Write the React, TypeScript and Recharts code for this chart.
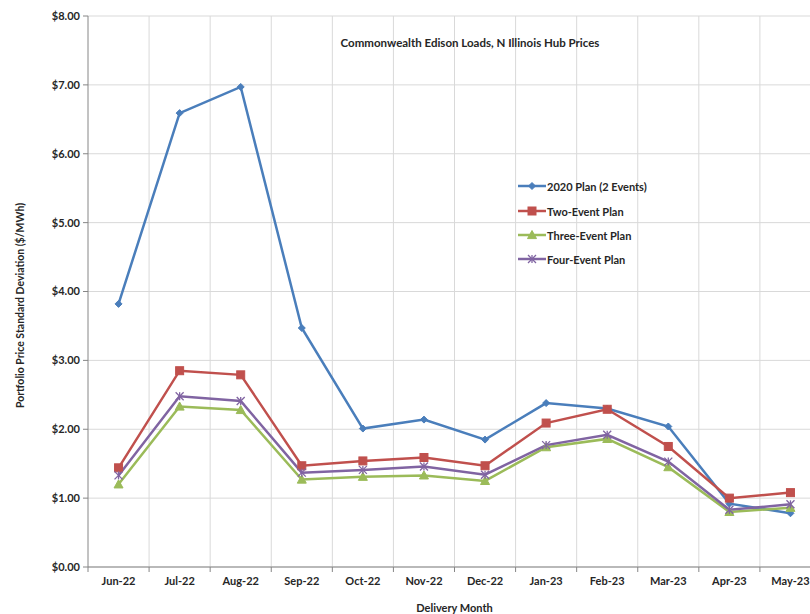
import React from "react";
import { LineChart, Line, XAxis, YAxis, CartesianGrid } from "recharts";

const months = ["Jun-22", "Jul-22", "Aug-22", "Sep-22", "Oct-22", "Nov-22", "Dec-22", "Jan-23", "Feb-23", "Mar-23", "Apr-23", "May-23"];
const plan2020 = [3.82, 6.59, 6.97, 3.47, 2.01, 2.14, 1.85, 2.38, 2.3, 2.04, 0.92, 0.78];
const twoEvent = [1.44, 2.85, 2.79, 1.47, 1.54, 1.59, 1.47, 2.09, 2.29, 1.75, 1.0, 1.08];
const threeEvent = [1.2, 2.33, 2.28, 1.27, 1.31, 1.33, 1.25, 1.74, 1.86, 1.45, 0.8, 0.86];
const fourEvent = [1.33, 2.48, 2.41, 1.37, 1.41, 1.46, 1.34, 1.77, 1.92, 1.53, 0.83, 0.91];
const yTicks = [0, 1, 2, 3, 4, 5, 6, 7, 8];

const seriesNames = ["2020 Plan (2 Events)", "Two-Event Plan", "Three-Event Plan", "Four-Event Plan"];
const colors = ["#4a7ebb", "#c0504d", "#9bbb59", "#8064a2"];
const shapes = ["diamond", "square", "triangle", "star"];

const data = months.map((m, i) => ({
  month: m,
  s0: plan2020[i],
  s1: twoEvent[i],
  s2: threeEvent[i],
  s3: fourEvent[i],
}));

const FONT = "Lato, 'Open Sans', sans-serif";
const TEXT = "#262626";

function Marker({ shape, cx, cy, color }: { shape: string; cx: number; cy: number; color: string }) {
  if (shape === "diamond") {
    const r = 3.5;
    return <path d={`M${cx},${cy - r} L${cx + r},${cy} L${cx},${cy + r} L${cx - r},${cy} Z`} fill={color} stroke={color} />;
  }
  if (shape === "square") {
    const r = 4;
    return <rect x={cx - r} y={cy - r} width={2 * r} height={2 * r} fill={color} stroke={color} />;
  }
  if (shape === "triangle") {
    const r = 4.5;
    return <path d={`M${cx},${cy - r} L${cx + r},${cy + r * 0.8} L${cx - r},${cy + r * 0.8} Z`} fill={color} stroke={color} />;
  }
  const r = 4;
  return (
    <g stroke={color} strokeWidth={1.3}>
      <line x1={cx - r} y1={cy - r} x2={cx + r} y2={cy + r} />
      <line x1={cx - r} y1={cy + r} x2={cx + r} y2={cy - r} />
      <line x1={cx} y1={cy - r} x2={cx} y2={cy + r} />
    </g>
  );
}

const makeDot = (k: number) => (props: any) => {
  const { cx, cy, index } = props;
  if (cx == null || cy == null) return <g key={`d${k}-${index}`} />;
  return (
    <g key={`d${k}-${index}`}>
      <Marker shape={shapes[k]} cx={cx} cy={cy} color={colors[k]} />
    </g>
  );
};

const XTick = (props: any) => {
  const { x, y, payload, index } = props;
  const half = payload && payload.offset ? payload.offset : 0;
  const axisY = 567;
  return (
    <g>
      <line x1={x - half} y1={axisY} x2={x - half} y2={axisY + 5} stroke="#868686" />
      {index === months.length - 1 && <line x1={x + half} y1={axisY} x2={x + half} y2={axisY + 5} stroke="#868686" />}
      <text x={x} y={y} dy={10} textAnchor="middle" fill={TEXT} fontSize={11} fontWeight={700} fontFamily={FONT}>
        {payload.value}
      </text>
    </g>
  );
};

export default function App() {
  const legendTop = [186, 211, 235, 259];
  return (
    <div style={{ position: "absolute", left: 0, top: 0, width: 810, height: 614, overflow: "hidden", background: "#fff", fontFamily: FONT }}>
      <LineChart width={832} height={614} data={data} margin={{ top: 16, right: 11, bottom: 0, left: 0 }}>
        <CartesianGrid
          stroke="#d9d9d9"
          strokeWidth={1}
          verticalCoordinatesGenerator={({ offset }: any) =>
            months.map((_, i) => offset.left + ((i + 1) * offset.width) / months.length)
          }
        />
        <XAxis
          dataKey="month"
          scale="band"
          height={47}
          stroke="#868686"
          tickLine={false}
          tick={<XTick />}
          interval={0}
          tickMargin={2}
          label={{ value: "Delivery Month", position: "insideBottom", offset: 2, fill: TEXT, fontSize: 11, fontWeight: 700, fontFamily: FONT }}
        />
        <YAxis
          width={88}
          domain={[0, 8]}
          ticks={yTicks}
          interval={0}
          stroke="#868686"
          tickSize={5}
          tickMargin={3}
          tickFormatter={(v: number) => `$${v.toFixed(2)}`}
          tick={{ fill: TEXT, fontSize: 11, fontWeight: 700, fontFamily: FONT }}
          label={{
            value: "Portfolio Price Standard Deviation ($/MWh)",
            angle: -90,
            position: "insideLeft",
            offset: 20,
            dy: 14,
            style: { textAnchor: "middle", fill: TEXT, fontSize: 10.5, fontWeight: 700, fontFamily: FONT },
          }}
        />
        {[0, 1, 2, 3].map((k) => (
          <Line
            key={k}
            type="linear"
            dataKey={`s${k}`}
            name={seriesNames[k]}
            stroke={colors[k]}
            strokeWidth={2.5}
            dot={makeDot(k)}
            activeDot={false}
            isAnimationActive={false}
          />
        ))}
      </LineChart>
      <div
        style={{
          position: "absolute",
          left: 0,
          width: 940,
          top: 36,
          textAlign: "center",
          fontSize: 11.5,
          fontWeight: 700,
          color: TEXT,
          lineHeight: "14px",
        }}
      >
        Commonwealth Edison Loads, N Illinois Hub Prices
      </div>
      {seriesNames.map((n, k) => (
        <div key={n} style={{ position: "absolute", left: 518, top: legendTop[k] - 8, height: 16, display: "flex", alignItems: "center" }}>
          <svg width={29} height={16}>
            <line x1={0} y1={8} x2={28} y2={8} stroke={colors[k]} strokeWidth={2.5} />
            <Marker shape={shapes[k]} cx={14} cy={8} color={colors[k]} />
          </svg>
          <span style={{ fontSize: 11, fontWeight: 700, color: TEXT, whiteSpace: "nowrap" }}>{n}</span>
        </div>
      ))}
    </div>
  );
}
